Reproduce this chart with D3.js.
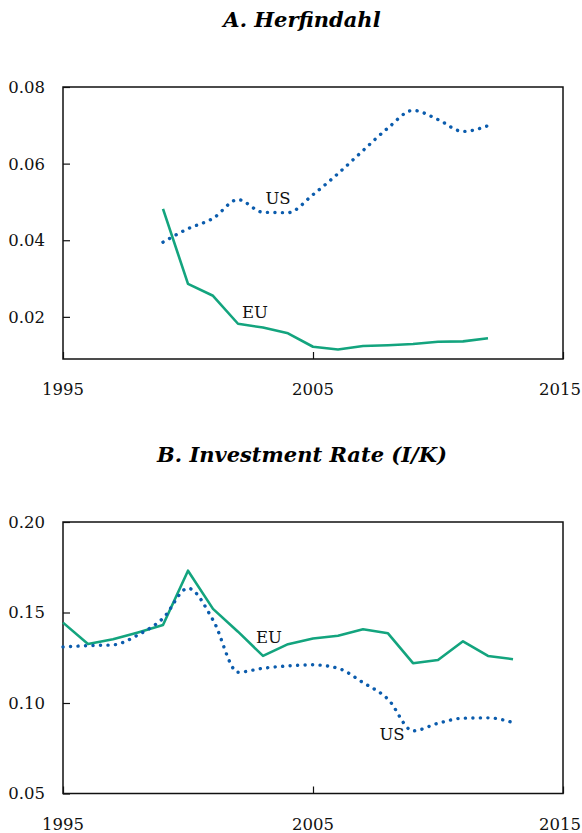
<!DOCTYPE html>
<html>
<head>
<meta charset="utf-8">
<script src="https://cdn.jsdelivr.net/npm/d3@7"></script>
<style>
  body { margin: 0; background: #fff; }
  svg { display: block; }
  .title { font-family: "DejaVu Serif", serif; font-weight: bold; font-style: italic; font-size: 21px; }
  .tick-label, .series-label { font-family: "DejaVu Serif", serif; font-size: 16.5px; fill: #111; }
</style>
</head>
<body>
<script>
// years
const herfYears = d3.range(1999, 2013);
const invYears = d3.range(1995, 2014);

// panel A: Herfindahl
const herfEU = [0.0482, 0.0286, 0.0255, 0.0182, 0.0172, 0.0157, 0.0122, 0.0115, 0.0124, 0.0126, 0.0129, 0.0135, 0.0136, 0.0144];
const herfUS = [0.0395, 0.0430, 0.0457, 0.0506, 0.0473, 0.0472, 0.0519, 0.0574, 0.0634, 0.0693, 0.0739, 0.0715, 0.0684, 0.0699];

// panel B: investment rate
const invEU = [0.1444, 0.1326, 0.1352, 0.1390, 0.1431, 0.1731, 0.1520, 0.1394, 0.1260, 0.1325, 0.1356, 0.1372, 0.1407, 0.1385, 0.1220, 0.1238, 0.1341, 0.1260, 0.1242];
const invUS = [0.1310, 0.1317, 0.1321, 0.1376, 0.1468, 0.1634, 0.1459, 0.1170, 0.1192, 0.1205, 0.1211, 0.1192, 0.1113, 0.1021, 0.0846, 0.0888, 0.0916, 0.0918, 0.0892];

const xTicks = [1995, 2005, 2015];
const herfTicks = [0.02, 0.04, 0.06, 0.08];
const invTicks = [0.05, 0.10, 0.15, 0.20];

const green = "#13a47e";
const blue = "#0b5cad";

const width = 582, height = 833;
const left = 63, right = 563;

const svg = d3.select("body").append("svg")
  .attr("width", width)
  .attr("height", height);

const x = d3.scaleLinear().domain([1995, 2015]).range([left, right]);

function drawPanel(opts) {
  const y = d3.scaleLinear().domain(opts.domain).range([opts.bottom, opts.top]);
  const g = svg.append("g");

  g.append("text")
    .attr("class", "title")
    .attr("x", 302)
    .attr("y", opts.titleY)
    .attr("text-anchor", "middle")
    .text(opts.title);

  // y ticks (inward)
  g.append("g")
    .attr("transform", `translate(${left},0)`)
    .call(d3.axisRight(y).tickValues(opts.ticks).tickSize(7).tickFormat(""))
    .call(a => a.select(".domain").remove())
    .selectAll("line").attr("stroke", "#111").attr("stroke-width", 1.2);

  g.selectAll(".ylab")
    .data(opts.ticks)
    .enter()
    .append("text")
    .attr("class", "tick-label")
    .attr("x", left - 18)
    .attr("y", d => y(d))
    .attr("dy", "0.36em")
    .attr("text-anchor", "end")
    .text(d => d.toFixed(2));

  // x ticks (inward, from bottom)
  g.append("g")
    .attr("transform", `translate(0,${opts.bottom})`)
    .call(d3.axisTop(x).tickValues(xTicks).tickSize(7).tickFormat(""))
    .call(a => a.select(".domain").remove())
    .selectAll("line").attr("stroke", "#111").attr("stroke-width", 1.2);

  // last label pushed inside the page edge
  g.selectAll(".xlab")
    .data(xTicks)
    .enter()
    .append("text")
    .attr("class", "tick-label")
    .attr("x", d => d === 2015 ? width - 1 : x(d))
    .attr("y", opts.bottom + 36)
    .attr("text-anchor", d => d === 2015 ? "end" : "middle")
    .text(d => d);

  // frame
  g.append("rect")
    .attr("x", left)
    .attr("y", opts.top)
    .attr("width", right - left)
    .attr("height", opts.bottom - opts.top)
    .attr("fill", "none")
    .attr("stroke", "#111")
    .attr("stroke-width", 1.5);

  const eu = opts.years.map((yr, i) => [yr, opts.eu[i]]);
  const us = opts.years.map((yr, i) => [yr, opts.us[i]]);

  g.append("path")
    .datum(eu)
    .attr("fill", "none")
    .attr("stroke", green)
    .attr("stroke-width", 2.6)
    .attr("stroke-linejoin", "round")
    .attr("d", d3.line().x(d => x(d[0])).y(d => y(d[1])));

  g.append("path")
    .datum(us)
    .attr("fill", "none")
    .attr("stroke", blue)
    .attr("stroke-width", 3.4)
    .attr("stroke-linecap", "round")
    .attr("stroke-dasharray", "0.1 7.4")
    .attr("d", d3.line().curve(d3.curveMonotoneX).x(d => x(d[0])).y(d => y(d[1])));

  opts.labels.forEach(l => {
    g.append("text")
      .attr("class", "series-label")
      .attr("x", l.x)
      .attr("y", l.y)
      .attr("text-anchor", "middle")
      .text(l.text);
  });
}

drawPanel({
  title: "A. Herfindahl",
  titleY: 27,
  top: 87, bottom: 359,
  domain: [0.009, 0.08],
  ticks: herfTicks,
  years: herfYears, eu: herfEU, us: herfUS,
  labels: [{ text: "US", x: 278, y: 204 }, { text: "EU", x: 255, y: 318 }]
});

drawPanel({
  title: "B. Investment Rate (I/K)",
  titleY: 462,
  top: 522, bottom: 793.5,
  domain: [0.05, 0.20],
  ticks: invTicks,
  years: invYears, eu: invEU, us: invUS,
  labels: [{ text: "EU", x: 269, y: 643 }, { text: "US", x: 392, y: 740 }]
});
</script>
</body>
</html>
